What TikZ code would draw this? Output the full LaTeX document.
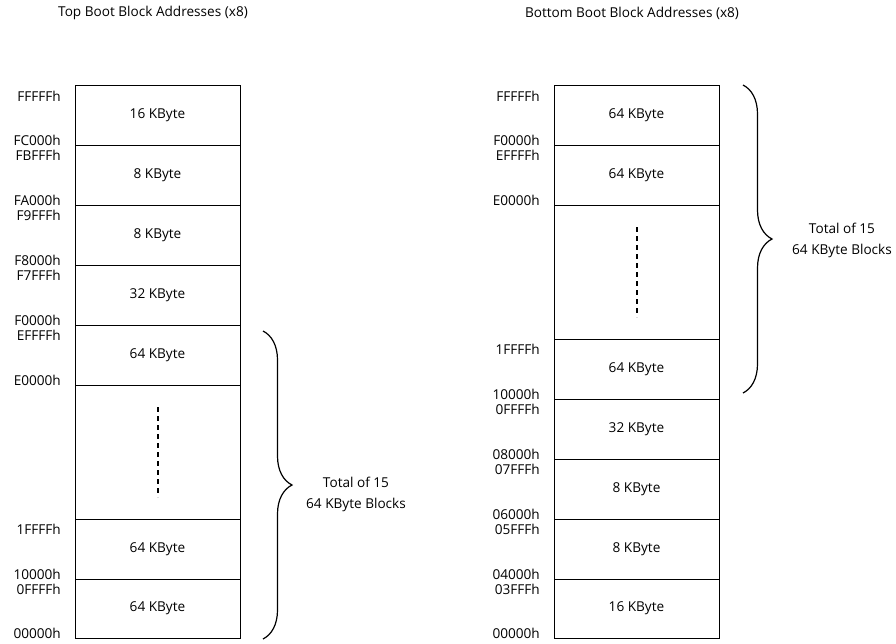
\documentclass[tikz,border=0pt]{standalone}
\usepackage{fontspec}
\setmainfont{Open Sans}
\usepackage{tikz}
\usetikzlibrary{decorations.pathreplacing,positioning}

\tikzset{
  blk/.style={draw, line width=0.8pt, rectangle, minimum width=165pt, inner sep=0pt, outer sep=0pt},
  addr/.style={anchor=east, inner sep=0pt},
  dots/.style={line width=2pt, dash pattern=on 5pt off 4pt},
  brc/.style={decorate, line width=1.2pt, decoration={brace, amplitude=29pt}},
}

\begin{document}
\begin{tikzpicture}[x=1pt, y=-1pt, font=\fontsize{13.6}{21}\selectfont]
%
\useasboundingbox (0,0) rectangle (896,643);
%
\node (ttitle) at (153,13) {Top Boot Block Addresses (x8)};
\node (btitle) at (632,13) {Bottom Boot Block Addresses (x8)};
%
% top boot block
\node[blk, minimum height=60pt] (t0) at (157.5,115) {16 KByte};
\node[blk, minimum height=60pt] (t1) at (157.5,175) {8 KByte};
\node[blk, minimum height=60pt] (t2) at (157.5,235) {8 KByte};
\node[blk, minimum height=60pt] (t3) at (157.5,295) {32 KByte};
\node[blk, minimum height=60pt] (t4) at (157.5,355) {64 KByte};
\node[blk, minimum height=134pt] (t5) at (157.5,452) {};
\node[blk, minimum height=60pt] (t6) at (157.5,549) {64 KByte};
\node[blk, minimum height=59pt] (t7) at (157.5,608.5) {64 KByte};
%
\node[addr] (ta0) at (61,96) {FFFFFh};
\node[addr] (ta1) at (61,140) {FC000h};
\node[addr] (ta2) at (61,155) {FBFFFh};
\node[addr] (ta3) at (61,200) {FA000h};
\node[addr] (ta4) at (61,215) {F9FFFh};
\node[addr] (ta5) at (61,260) {F8000h};
\node[addr] (ta6) at (61,275) {F7FFFh};
\node[addr] (ta7) at (61,320) {F0000h};
\node[addr] (ta8) at (61,335) {EFFFFh};
\node[addr] (ta9) at (61,380) {E0000h};
\node[addr] (ta10) at (61,529) {1FFFFh};
\node[addr] (ta11) at (61,574) {10000h};
\node[addr] (ta12) at (61,589) {0FFFFh};
\node[addr] (ta13) at (61,633) {00000h};
%
\draw[dots] ([yshift=45pt]t5.center) -- ([yshift=-45pt]t5.center);
%
\coordinate (tb1) at (263,331);
\coordinate (tb2) at (263,639);
\draw[brc] (tb1) -- (tb2);
\node[align=center] (tsum) at (356,494.5) {Total of 15\\64 KByte Blocks};
%
% bottom boot block
\node[blk, minimum height=60pt] (b0) at (636.5,115) {64 KByte};
\node[blk, minimum height=60pt] (b1) at (636.5,175) {64 KByte};
\node[blk, minimum height=134pt] (b2) at (636.5,272) {};
\node[blk, minimum height=60pt] (b3) at (636.5,369) {64 KByte};
\node[blk, minimum height=60pt] (b4) at (636.5,429) {32 KByte};
\node[blk, minimum height=60pt] (b5) at (636.5,489) {8 KByte};
\node[blk, minimum height=60pt] (b6) at (636.5,549) {8 KByte};
\node[blk, minimum height=59pt] (b7) at (636.5,608.5) {16 KByte};
%
\node[addr] (ba0) at (540,96) {FFFFFh};
\node[addr] (ba1) at (540,140) {F0000h};
\node[addr] (ba2) at (540,155) {EFFFFh};
\node[addr] (ba3) at (540,200) {E0000h};
\node[addr] (ba4) at (540,349) {1FFFFh};
\node[addr] (ba5) at (540,394) {10000h};
\node[addr] (ba6) at (540,409) {0FFFFh};
\node[addr] (ba7) at (540,454) {08000h};
\node[addr] (ba8) at (540,469) {07FFFh};
\node[addr] (ba9) at (540,514) {06000h};
\node[addr] (ba10) at (540,529) {05FFFh};
\node[addr] (ba11) at (540,574) {04000h};
\node[addr] (ba12) at (540,589) {03FFFh};
\node[addr] (ba13) at (540,633) {00000h};
%
\draw[dots] ([yshift=45pt]b2.center) -- ([yshift=-45pt]b2.center);
%
\coordinate (bb1) at (743,85);
\coordinate (bb2) at (743,393);
\draw[brc] (bb1) -- (bb2);
\node[align=center] (bsum) at (842,240.5) {Total of 15\\64 KByte Blocks};
%
\end{tikzpicture}
\end{document}
